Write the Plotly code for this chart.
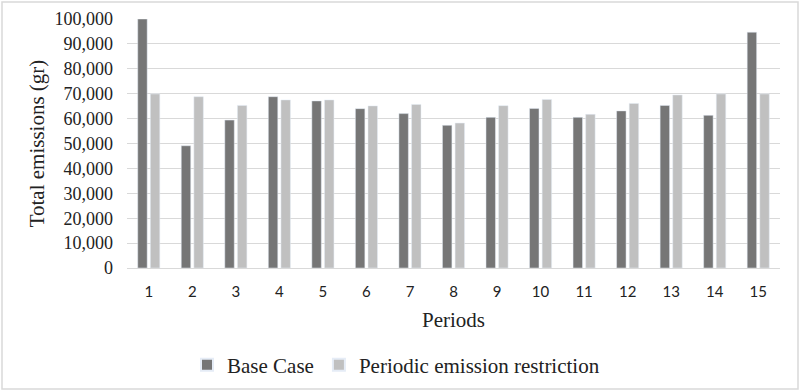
import plotly.graph_objects as go

periods = [str(i) for i in range(1, 16)]
base_case = [100000, 49100, 59400, 68800, 67100, 64000, 62000, 57300, 60500, 64100, 60500, 63100, 65300, 61300, 94700]
periodic = [69900, 68800, 65300, 67500, 67500, 65100, 65700, 58200, 65200, 67700, 61700, 66100, 69500, 69900, 69900]
y_ticks = list(range(0, 100001, 10000))
y_tick_text = [f"{v:,}" for v in y_ticks]

serif = "Liberation Serif, Times New Roman, serif"

fig = go.Figure()
fig.add_trace(go.Bar(x=periods, y=base_case, name="Base Case", marker_color="#767676"))
fig.add_trace(go.Bar(x=periods, y=periodic, name="Periodic emission restriction", marker_color="#c0c0c0"))

fig.update_layout(
    width=800, height=392,
    margin=dict(l=127, r=20, t=19, b=124, autoexpand=False),
    paper_bgcolor="white", plot_bgcolor="white",
    barmode="group", bargap=0.42, bargroupgap=0.25,
    showlegend=True,
    legend=dict(orientation="h", x=(396 - 127) / 653, xanchor="center", y=-0.39, yanchor="middle",
                font=dict(family=serif, size=21, color="#222"), itemwidth=30, traceorder="normal",
                itemsizing="constant"),
    xaxis=dict(title=dict(text="Periods", font=dict(family=serif, size=21, color="#222"), standoff=13),
               tickfont=dict(family="Lato, Open Sans, sans-serif", size=15, color="#222"),
               ticklabelstandoff=10,
               showline=True, linecolor="#d9d9d9", linewidth=1, ticks="", showgrid=False),
    yaxis=dict(title=dict(text="Total emissions (gr)", font=dict(family=serif, size=21, color="#222"), standoff=4),
               range=[0, 100000], tickvals=y_ticks, ticktext=y_tick_text,
               tickfont=dict(family=serif, size=18, color="#222"),
               ticklabelstandoff=13,
               showgrid=True, gridcolor="#d9d9d9", gridwidth=1, zeroline=False, ticks=""),
    shapes=[dict(type="rect", xref="paper", yref="paper",
                 x0=-125/653, x1=1 + 18/653, y0=-121/249, y1=1 + 17/249,
                 line=dict(color="#d9d9d9", width=1.5), fillcolor="rgba(0,0,0,0)")],
)

fig.write_html("out.html", config={"displayModeBar": False},
               post_script="document.body.style.margin='0';document.body.style.overflow='hidden';")
